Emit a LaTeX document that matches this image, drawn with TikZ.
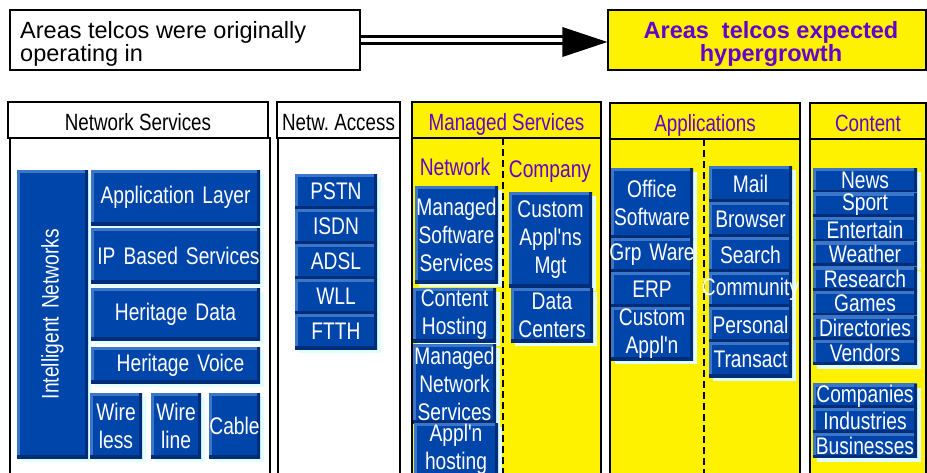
\documentclass[tikz,border=0pt]{standalone}
\usepackage{fontspec}
\usepackage{graphicx}
\setmainfont{Liberation Sans}
\newfontfamily\narrowfont{Liberation Sans}[FakeStretch=0.8]
\usetikzlibrary{shadows}

\definecolor{btnblue}{RGB}{0,70,170}
\definecolor{btnlight}{RGB}{60,118,200}
\definecolor{btndark}{RGB}{0,45,120}
\definecolor{btnshadow}{RGB}{226,255,255}
\definecolor{hyperpurple}{RGB}{102,0,204}

\begin{document}
\frenchspacing
\begin{tikzpicture}[x=1pt, y=-1pt,
        btn/.style={fill=btnblue, text=white, inner sep=0pt, align=center,
            font=\narrowfont\fontsize{24}{28}\selectfont,
            general shadow={fill=btnshadow, shadow xshift=4pt, shadow yshift=-4pt},
            path picture={
                \draw[btnlight, line width=6pt] (path picture bounding box.south west) -- (path picture bounding box.north west) -- (path picture bounding box.north east);
                \draw[btndark, line width=6pt] (path picture bounding box.south west) -- (path picture bounding box.south east) -- (path picture bounding box.north east);
            }},
        btnsize/.style 2 args={text width=#1pt, minimum height=#2pt},
        colhead/.style={draw, line width=1.3pt, inner sep=0pt, text height=24.8pt, text depth=3pt,
            font=\narrowfont\fontsize{23.5}{28}\selectfont},
        yhead/.style={colhead, fill=yellow, text=hyperpurple},
        sublabel/.style={text=hyperpurple, inner sep=0pt, font=\narrowfont\fontsize{24}{28}\selectfont}]
        \useasboundingbox (0,0) rectangle (927,472);
        \clip (0,0) rectangle (927,472);

        % Top boxes
        \node[draw, line width=1.3pt, minimum width=350pt, minimum height=60pt] (orig) at (185,40) {};
        \node[anchor=west, inner sep=0pt, align=left, font=\fontsize{23.5}{21}\selectfont] (origtext) at (20,43.8) {Areas telcos were originally\\operating in};
        \node[draw, fill=yellow, line width=1.3pt, minimum width=318pt, minimum height=60pt] (growth) at (767,40) {};
        \node[inner sep=0pt, align=center, text=hyperpurple, font=\bfseries\fontsize{23.5}{23}\selectfont] (growthtext) at (771,44) {Areas\ \ telcos expected\\hypergrowth};

        % Arrow
        \draw[double, double distance=4.5pt, line width=3pt, shorten >=44pt] (orig.east) -- (growth.west);
        \fill ([yshift=-2pt]growth.west) -- ++(-45pt,15pt) -- ++(0pt,-30pt) -- cycle;

        % Column bodies
        \draw[line width=1.3pt] (10,138) rectangle (270,480);
        \draw[line width=1.3pt] (278,138) rectangle (400,480);
        \draw[line width=1.3pt, fill=yellow] (412,138) rectangle (601,480);
        \draw[line width=1.3pt, fill=yellow] (610,139) rectangle (800,480);
        \draw[line width=1.3pt, fill=yellow] (810,139) rectangle (926,480);
        \draw[dashed, line width=1.8pt, dash pattern=on 7pt off 4pt] (503,138) -- (503,480);
        \draw[dashed, line width=1.8pt, dash pattern=on 7pt off 4pt] (704,139) -- (704,480);

        % Column headers
        \node[colhead, fill=white, minimum width=260pt, minimum height=36pt] (nshead) at (138,120) {Network Services};
        \node[colhead, fill=white, minimum width=123pt, minimum height=36pt] (nahead) at (338.5,120) {Netw. Access};
        \node[yhead, minimum width=189pt, minimum height=36pt] (mshead) at (506.5,120) {Managed Services};
        \node[yhead, minimum width=190pt, minimum height=36pt] (apphead) at (705,121) {Applications};
        \node[yhead, minimum width=116pt, minimum height=36pt] (conthead) at (868,121) {Content};

        % Network Services
        \node[btn, btnsize={71}{288}] (intnet) at (52.5,314) {\rotatebox{90}{Intelligent Networks}};
        \node[btn, btnsize={169}{55}] (applayer) at (175.5,197.5) {Application Layer};
        \node[btn, btnsize={169}{55}] (ipserv) at (175.5,255.5) {\hspace*{6pt}IP Based Services};
        \node[btn, btnsize={169}{52}] (herdata) at (175.5,314) {Heritage Data};
        \node[btn, btnsize={169}{36}] (hervoice) at (175.5,365) {\hspace*{10pt}Heritage Voice};
        \node[btn, btnsize={52}{65}] (wireless) at (116,425.5) {Wire\\less};
        \node[btn, btnsize={50}{65}] (wireline) at (176,425.5) {Wire\\line};
        \node[btn, btnsize={51}{65}] (cable) at (234.5,425.5) {Cable};

        % Netw. Access
        \node[btn, btnsize={82}{35}] (pstn) at (336,191.5) {PSTN};
        \node[btn, btnsize={82}{35}] (isdn) at (336,226.5) {ISDN};
        \node[btn, btnsize={82}{35}] (adsl) at (336,261.5) {ADSL};
        \node[btn, btnsize={82}{35}] (wll) at (336,296.5) {WLL};
        \node[btn, btnsize={82}{35}] (ftth) at (336,331.5) {FTTH};

        % Managed Services
        \node[sublabel] (netlbl) at (455,167) {Network};
        \node[sublabel] (complbl) at (550,172) {Company};
        \node[btn, btnsize={83}{97}] (mss) at (456.5,234.5) {Managed\\Software\\Services};
        \node[btn, btnsize={83}{54}] (conthost) at (454.5,315) {Content\\Hosting};
        \node[btn, btnsize={83}{79}] (mns) at (454.5,383.5) {Managed\\Network\\Services};
        \node[btn, btnsize={84}{53}] (applhost) at (456,449.5) {Appl'n\\hosting};
        \node[btn, btnsize={83}{95}] (custmgt) at (550.5,239.5) {Custom\\Appl'ns\\Mgt};
        \node[btn, btnsize={82}{54}] (datacent) at (552,315) {Data\\Centers};

        % Applications
        \node[btn, btnsize={82}{70}] (office) at (652,203) {Office\\Software};
        \node[btn, btnsize={82}{34}] (grpware) at (652,255) {\makebox[\linewidth]{Grp Ware}};
        \node[btn, btnsize={82}{35}] (erp) at (652,289.5) {ERP};
        \node[btn, btnsize={82}{53}] (custappl) at (652,333.5) {Custom\\Appl'n};
        \node[btn, btnsize={83}{36}] (mail) at (750.5,184) {Mail};
        \node[btn, btnsize={83}{35}] (browser) at (750.5,219.5) {Browser};
        \node[btn, btnsize={83}{35}] (search) at (750.5,254.5) {Search};
        \node[btn, btnsize={83}{35}] (community) at (750.5,289.5) {\makebox[\linewidth]{Community}};
        \node[btn, btnsize={83}{35}] (personal) at (750.5,324.5) {Personal};
        \node[btn, btnsize={83}{35}] (transact) at (750.5,359.5) {Transact};

        % Content
        \node[btn, btnsize={104}{24.6}] (news) at (865,180.3) {News};
        \node[btn, btnsize={104}{24.6}] (sport) at (865,204.9) {Sport};
        \node[btn, btnsize={104}{24.6}] (entertain) at (865,229.5) {Entertain};
        \node[btn, btnsize={104}{24.6}] (weather) at (865,254.1) {Weather};
        \node[btn, btnsize={104}{24.6}] (research) at (865,278.8) {Research};
        \node[btn, btnsize={104}{24.6}] (games) at (865,303.4) {Games};
        \node[btn, btnsize={104}{24.6}] (directories) at (865,328) {Directories};
        \node[btn, btnsize={104}{24.6}] (vendors) at (865,352.6) {Vendors};
        \node[btn, btnsize={104}{24.7}] (companies) at (865,396) {Companies};
        \node[btn, btnsize={104}{24.7}] (industries) at (865,420.5) {Industries};
        \node[btn, btnsize={104}{24.7}] (businesses) at (865,445.5) {Businesses};
\end{tikzpicture}
\end{document}
